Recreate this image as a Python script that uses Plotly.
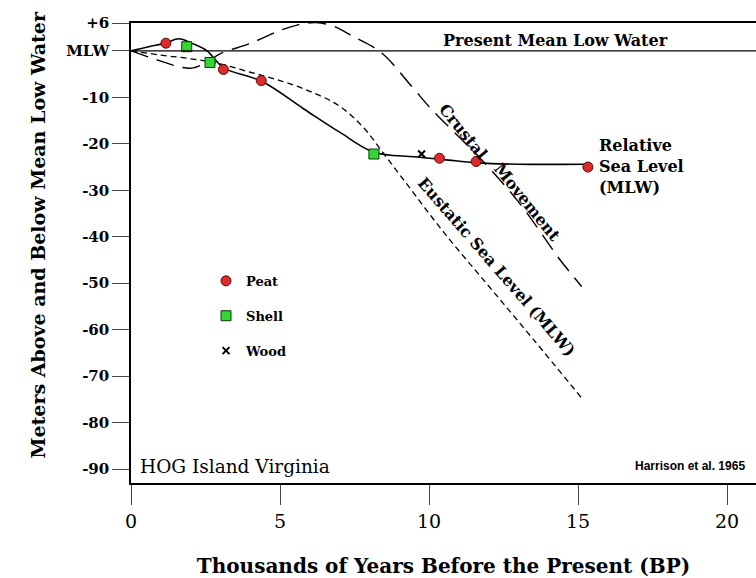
import plotly.graph_objects as go

# ---- data (thousands of years BP, metres relative to MLW) ----
rsl_x = [0, 0.6, 1.17, 1.6, 2.05, 2.55, 3.1, 4.4, 5.8, 7.0, 8.15, 9.5, 10.5, 11.6, 13.0, 15.3]
rsl_y = [0, 0.9, 1.7, 2.6, 1.6, 0.0, -3.6, -6.6, -12.5, -17.5, -21.8, -22.8, -23.4, -24.1, -24.4, -24.4]

eus_x = [0, 1.0, 2.0, 3.0, 4.0, 5.0, 6.0, 7.0, 7.8, 8.5, 9.2, 10.5, 12.0, 13.5, 15.12]
eus_y = [0, -0.9, -1.7, -2.8, -4.6, -6.4, -8.7, -11.9, -16.5, -22.3, -28.2, -39.1, -50.6, -62.1, -74.7]

cru_x = [0, 1.0, 1.6, 2.05, 2.5, 3.0, 4.0, 5.0, 5.6, 6.2, 6.8, 7.45, 8.4, 9.4, 10.0, 11.0, 11.7, 13.0, 14.4, 15.12]
cru_y = [0, -2.2, -3.4, -3.7, -2.6, -0.6, 1.6, 4.4, 5.6, 6.1, 5.3, 3.1, -0.4, -7.5, -12.0, -18.5, -23.0, -32.5, -45.0, -50.7]

peat_x = [1.17, 3.1, 4.37, 10.35, 11.58, 15.33]
peat_y = [1.66, -4.0, -6.4, -23.1, -23.8, -25.0]

shell_x = [1.87, 2.65, 8.15]
shell_y = [0.9, -2.5, -22.2]

wood_x = [9.75]
wood_y = [-22.2]

y_tickvals = [6, 0, -10, -20, -30, -40, -50, -60, -70, -80, -90]
y_ticktext = ["+6", "MLW", "-10", "-20", "-30", "-40", "-50", "-60", "-70", "-80", "-90"]
x_tickvals = [0, 5, 10, 15, 20]

SERIF = "DejaVu Serif"

fig = go.Figure()

fig.add_trace(go.Scatter(x=cru_x, y=cru_y, mode="lines", showlegend=False,
                         line=dict(color="black", width=1.4, dash="18px,9px", shape="spline")))
fig.add_trace(go.Scatter(x=eus_x, y=eus_y, mode="lines", showlegend=False,
                         line=dict(color="black", width=1.3, dash="6px,4px", shape="spline")))
fig.add_trace(go.Scatter(x=rsl_x, y=rsl_y, mode="lines", showlegend=False,
                         line=dict(color="black", width=1.6, shape="spline")))

fig.add_trace(go.Scatter(x=peat_x, y=peat_y, mode="markers", name="Peat", legendgroup="a",
                         marker=dict(symbol="circle", size=10, color="#dd2a2a",
                                     line=dict(color="#5a0a0a", width=1))))
fig.add_trace(go.Scatter(x=shell_x, y=shell_y, mode="markers", name="Shell", legendgroup="b",
                         marker=dict(symbol="square", size=10, color="#33d633",
                                     line=dict(color="#0a3a0a", width=1))))
fig.add_trace(go.Scatter(x=wood_x, y=wood_y, mode="markers", name="Wood", legendgroup="c",
                         marker=dict(symbol="x-thin-open", size=7, color="black",
                                     line=dict(color="black", width=2))))

fig.add_shape(type="line", xref="paper", x0=0, x1=1, yref="y", y0=0, y1=0,
              line=dict(color="black", width=1.3))

bold = dict(family=SERIF, color="black", weight="bold")

ann = [
    dict(x=14.23, y=2.15, text="Present Mean Low Water", font=dict(size=16, **bold)),
    dict(x=15.64, y=-24.8, text="Relative<br>Sea Level<br>(MLW)", xanchor="left", align="left",
         font=dict(size=16, **bold)),
    dict(x=11.14, y=-17.4, text="Crustal", textangle=51, font=dict(size=16, **bold)),
    dict(x=13.3, y=-32.6, text="Movement", textangle=51, font=dict(size=16, **bold)),
    dict(x=12.25, y=-46.5, text="Eustatic Sea Level (MLW)", textangle=49, font=dict(size=16, **bold)),
    dict(x=0.23, y=-89.4, text="HOG Island Virginia", xanchor="left",
         font=dict(size=18.5, family=SERIF, color="black")),
    dict(x=20.67, y=-89.4, text="Harrison et al. 1965", xanchor="right",
         font=dict(size=12, family="Liberation Sans", color="black", weight="bold")),
]
for a in ann:
    a.update(xref="x", yref="y", showarrow=False)
ann.append(dict(xref="paper", yref="paper", x=-0.1696, y=0.54, textangle=-90, showarrow=False,
                text="Meters Above and Below Mean Low Water", font=dict(size=19, **bold)))
fig.update_layout(annotations=ann)

fig.update_layout(
    width=756, height=578,
    margin=dict(l=131, r=0, t=23, b=95),
    paper_bgcolor="white", plot_bgcolor="white",
    showlegend=True,
    legend=dict(x=0.12, y=0.472, xanchor="left", yanchor="top", bgcolor="rgba(0,0,0,0)",
                tracegroupgap=15, font=dict(size=13, **bold)),
    xaxis=dict(range=[0, 20.97], tickvals=x_tickvals, ticks="outside", ticklen=20, tickwidth=1.2,
               showline=True, mirror=True, linecolor="black", linewidth=1.5, showgrid=False,
               zeroline=False, tickfont=dict(size=19, family=SERIF, color="black"),
               title=dict(text="Thousands of Years Before the Present (BP)", standoff=28,
                          font=dict(size=20, **bold))),
    yaxis=dict(range=[-93, 6], tickvals=y_tickvals, ticktext=y_ticktext, ticks="outside",
               ticklen=17, tickwidth=1.3, showline=True, linecolor="black", linewidth=1.5,
               showgrid=False, zeroline=False,
               tickfont=dict(size=15, **bold)),
)

fig.write_html("out.html")
